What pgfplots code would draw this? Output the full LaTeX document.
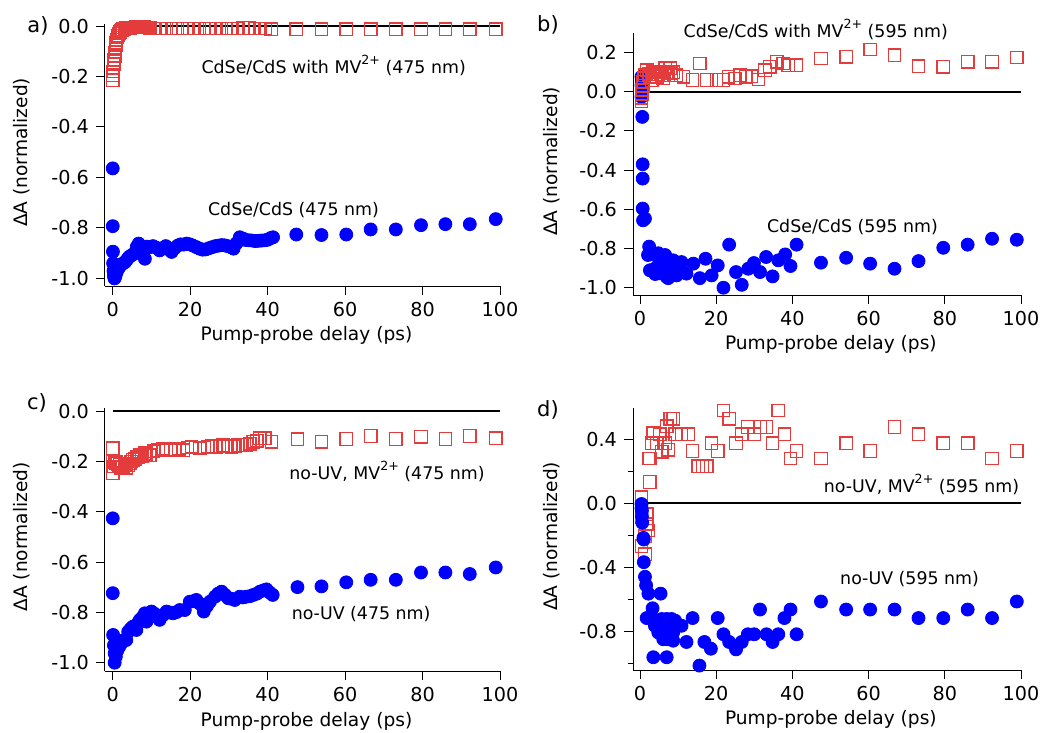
\documentclass[border=0pt]{standalone}
\usepackage{fontspec}
\setmainfont{DejaVu Sans}
\usepackage{pgfplots}
\pgfplotsset{compat=1.18}
\definecolor{sqred}{RGB}{228,60,60}
\definecolor{dotblue}{RGB}{0,0,255}
\newcommand\sups[1]{\raisebox{0.95ex}{\fontsize{6.3}{7}\selectfont #1}}
\tikzset{ann/.style={anchor=base west, font=\fontsize{8.7}{10}\selectfont}}
\pgfplotsset{
 panel/.style={
  scale only axis, axis lines*=left, clip=false,
  xtick={0,20,...,100},
  tick align=outside, major tick length=4.5pt, minor tick length=2.5pt,
  every tick/.style={black, line width=0.5pt},
  axis line style={black, line width=0.5pt},
  /pgf/number format/assume math mode=true,
  ticklabel style={font=\fontsize{9.6}{11}\selectfont},
  yticklabel style={/pgf/number format/.cd, fixed, fixed zerofill, precision=1},
  xlabel={Pump-probe delay (ps)},
  ylabel={ΔA (normalized)},
  label style={font=\fontsize{9.3}{11}\selectfont},
  xlabel style={at={(axis description cs:0.51,-0.19)}, anchor=center},
  ylabel style={at={(axis description cs:-0.21,0.51)}, anchor=center},
 },
 zline/.style={black, line width=1pt, forget plot},
 bluedots/.style={only marks, mark=*, mark size=3.25pt, color=dotblue, mark options={draw=dotblue, fill=dotblue}},
 redsq/.style={only marks, mark=square, mark size=3.1pt, color=sqred, line width=0.65pt, mark options={solid, fill=none}},
}
\begin{document}
\begin{tikzpicture}
\useasboundingbox (0,0) rectangle (525.5pt,-366.5pt);
% ---------------- a
\begin{axis}[panel, at={(52.5pt,-143pt)}, anchor=south west, width=197.5pt, height=131pt,
  xmin=-2, xmax=100, ymin=-1.03, ymax=0.008, ytick={-1,-0.8,...,0.01}]
\addplot[zline] coordinates {(0,0) (100,0)};
\addplot[redsq] coordinates {
(0,-0.214) (0.05,-0.195) (0.1,-0.18) (0.2,-0.165) (0.3,-0.15) (0.4,-0.135) (0.5,-0.12) (0.6,-0.105)
(0.7,-0.09) (0.8,-0.075) (0.9,-0.065) (1.0,-0.055) (1.2,-0.045) (1.4,-0.038) (1.6,-0.03) (1.8,-0.025)
(2.0,-0.02) (2.3,-0.016) (2.6,-0.013) (3.0,-0.011) (3.5,-0.009) (4.0,-0.008) (4.5,-0.007) (5.0,-0.006)
(5.5,-0.006) (6.0,-0.005) (6.5,-0.005) (7.0,-0.005) (7.5,-0.005) (8.0,-0.005) (8.5,-0.006) (9.0,-0.006)
(9.6,-0.007) (11.0,-0.01) (12.4,-0.01) (13.8,-0.01) (15.2,-0.01) (16.6,-0.01) (18.0,-0.01) (19.4,-0.01)
(20.9,-0.01) (22.3,-0.01) (23.7,-0.01) (25.1,-0.01) (26.6,-0.01) (28.0,-0.01) (29.4,-0.01) (30.8,-0.01)
(32.3,-0.01) (33.7,-0.008) (35.1,-0.008) (36.6,-0.01) (38.0,-0.01) (39.4,-0.01) (40.9,-0.013)
(47.4,-0.013) (53.9,-0.013) (60.3,-0.013) (66.6,-0.013) (73.1,-0.013) (79.6,-0.013) (85.9,-0.013) (92.2,-0.013) (98.9,-0.013)};
\addplot[bluedots] coordinates {
(0,-0.564) (0,-0.793) (0.05,-0.894) (0.1,-0.94) (0.2,-0.97) (0.3,-0.99) (0.45,-1.0) (0.6,-0.995)
(0.8,-0.985) (1.0,-0.975) (1.3,-0.965) (1.7,-0.955) (2.2,-0.945) (2.7,-0.94) (3.2,-0.935) (3.7,-0.925)
(4.2,-0.915) (4.7,-0.91) (5.2,-0.905) (5.7,-0.9) (6.2,-0.875) (6.7,-0.862) (7.2,-0.88) (7.7,-0.895)
(8.3,-0.922) (8.8,-0.874) (9.6,-0.876) (10.4,-0.872) (11.2,-0.878) (12.1,-0.889) (12.9,-0.88) (13.7,-0.872)
(14.5,-0.885) (15.2,-0.895) (16.0,-0.88) (16.8,-0.87) (17.5,-0.865) (18.3,-0.866) (19.1,-0.862) (19.9,-0.865)
(20.7,-0.87) (21.6,-0.876) (22.4,-0.882) (23.2,-0.886) (24.0,-0.885) (24.9,-0.88) (25.7,-0.876) (26.5,-0.872)
(27.3,-0.87) (28.1,-0.868) (28.9,-0.869) (29.7,-0.872) (30.5,-0.876) (31.2,-0.882) (32.0,-0.86) (32.8,-0.837)
(33.6,-0.842) (34.4,-0.848) (35.2,-0.849) (36.0,-0.85) (36.8,-0.852) (37.6,-0.851) (38.4,-0.85) (39.2,-0.849)
(40.0,-0.847) (40.8,-0.84) (41.4,-0.837)
(47.4,-0.826) (53.9,-0.828) (60.3,-0.826) (66.6,-0.806) (73.1,-0.806) (79.6,-0.789) (85.9,-0.785) (92.2,-0.785) (98.9,-0.765)};
\node[ann] at (axis cs:21.1,-0.188) {CdSe/CdS with MV\sups{2+} (475 nm)};
\node[ann] at (axis cs:22.8,-0.749) {CdSe/CdS (475 nm)};
\end{axis}
% ---------------- b
\begin{axis}[panel, at={(316.5pt,-147.5pt)}, anchor=south west, width=194pt, height=131pt,
  xmin=-1.84, xmax=100, ymin=-1.037, ymax=0.30, ytick={-1,-0.8,...,0.21}]
\addplot[zline] coordinates {(0,0) (100,0)};
\addplot[bluedots] coordinates {
(0.4,0.077) (0.4,0.034) (0.4,-0.026) (0.5,0.06) (0.5,0.0) (0.6,-0.128) (0.7,-0.37) (0.7,-0.443)
(0.7,-0.596) (0.8,-0.656) (1.3,-0.647)
(2.1,-0.833) (2.4,-0.79) (2.6,-0.911) (3.1,-0.91) (3.5,-0.83) (4.0,-0.93) (4.4,-0.894) (4.8,-0.824)
(5.2,-0.86) (5.2,-0.926) (5.7,-0.84) (6.1,-0.877) (6.6,-0.833) (7.0,-0.945) (7.4,-0.894) (7.4,-0.951)
(7.9,-0.87) (8.3,-0.92) (8.7,-0.86) (9.2,-0.867) (9.6,-0.937) (10.1,-0.926) (10.9,-0.869) (12.2,-0.928)
(14.0,-0.877) (15.7,-0.951) (17.2,-0.852) (18.8,-0.937) (20.4,-0.886) (21.9,-1.0) (23.4,-0.78) (25.2,-0.92)
(26.7,-0.985) (28.4,-0.903) (29.9,-0.874) (31.5,-0.92) (33.1,-0.843) (34.8,-0.942) (36.3,-0.86) (38.1,-0.83)
(39.5,-0.889) (41.1,-0.78)
(47.5,-0.872) (54.1,-0.847) (60.4,-0.877) (66.8,-0.903) (73.1,-0.864) (79.6,-0.796) (86.0,-0.78) (92.4,-0.75) (98.9,-0.755)};
\addplot[redsq] coordinates {
(0.4,-0.05) (0.4,-0.03) (0.5,-0.01) (0.6,0.01) (0.7,0.03) (0.8,0.05) (0.9,0.07) (1.2,0.085)
(1.75,0.11) (2.2,0.09) (2.6,0.08) (3.1,0.06) (3.5,0.10) (4.0,0.09) (4.4,0.077) (4.8,0.09)
(5.2,0.10) (5.7,0.085) (6.1,0.068) (6.6,0.12) (7.0,0.10) (7.4,0.085) (7.9,0.12) (8.3,0.095)
(8.7,0.10) (9.6,0.085) (11.4,0.077) (13.8,0.06) (15.7,0.145) (17.5,0.06) (20.1,0.06) (21.9,0.06)
(23.2,0.077) (24.9,0.068) (26.2,0.085) (27.8,0.077) (29.3,0.08) (31.1,0.063) (32.8,0.11) (34.1,0.128)
(35.9,0.153) (37.6,0.145) (38.9,0.136) (41.1,0.136)
(47.5,0.17) (54.1,0.179) (60.4,0.216) (66.8,0.187) (73.1,0.131) (79.6,0.128) (86.0,0.153) (92.4,0.153) (98.9,0.175)};
\node[ann] at (axis cs:9.6,0.278) {CdSe/CdS with MV\sups{2+} (595 nm)};
\node[ann] at (axis cs:31.5,-0.719) {CdSe/CdS (595 nm)};
\end{axis}
% ---------------- c
\begin{axis}[panel, at={(52.5pt,-335.5pt)}, anchor=south west, width=197.5pt, height=131.5pt,
  xmin=-2, xmax=100, ymin=-1.032, ymax=0.012, ytick={-1,-0.8,...,0.01}]
\addplot[zline] coordinates {(0,0) (100,0)};
\addplot[redsq] coordinates {
(0,-0.148) (0,-0.201) (0,-0.247) (0.3,-0.22) (0.5,-0.2) (0.8,-0.205) (1.0,-0.2) (1.2,-0.21)
(1.5,-0.22) (1.8,-0.214) (2.2,-0.225) (2.6,-0.22) (3.1,-0.214) (3.5,-0.225) (4.0,-0.215) (4.4,-0.208)
(4.8,-0.2) (5.2,-0.194) (5.7,-0.19) (6.1,-0.181) (6.6,-0.185) (7.0,-0.175) (7.5,-0.18) (8.3,-0.168)
(8.7,-0.17) (9.6,-0.175) (10.5,-0.16) (11.7,-0.155) (13.0,-0.15) (13.9,-0.155) (15.0,-0.152) (16.0,-0.155)
(17.1,-0.15) (18.2,-0.155) (19.3,-0.145) (20.3,-0.142) (21.4,-0.145) (22.5,-0.148) (23.6,-0.145) (24.6,-0.142)
(25.7,-0.14) (26.8,-0.142) (27.6,-0.14) (28.5,-0.135) (29.6,-0.14) (30.7,-0.142) (31.5,-0.14) (32.4,-0.135)
(33.5,-0.135) (34.5,-0.135) (35.4,-0.13) (36.3,-0.122) (37.2,-0.118) (38.0,-0.108) (39.3,-0.108) (41.0,-0.122)
(47.7,-0.112) (53.9,-0.122) (60.3,-0.111) (66.6,-0.099) (73.1,-0.111) (79.6,-0.102) (85.9,-0.111) (92.2,-0.099) (98.9,-0.108)};
\addplot[bluedots] coordinates {
(0,-0.426) (0,-0.723) (0.1,-0.889) (0.3,-0.93) (0.5,-0.962) (0.5,-0.999) (0.8,-0.975) (1.2,-0.95)
(1.7,-0.935) (2.2,-0.922) (2.8,-0.91) (3.5,-0.909) (4.0,-0.876) (4.6,-0.865) (5.2,-0.856) (5.7,-0.86)
(6.1,-0.869) (6.6,-0.84) (7.0,-0.829) (7.6,-0.82) (8.3,-0.803) (8.7,-0.836) (9.2,-0.81) (10.0,-0.796)
(10.8,-0.805) (12.1,-0.829) (13.0,-0.81) (13.9,-0.796) (14.8,-0.8) (15.6,-0.803) (16.5,-0.798) (17.3,-0.79)
(18.6,-0.79) (19.9,-0.757) (20.8,-0.755) (21.6,-0.75) (22.5,-0.765) (23.5,-0.796) (24.3,-0.775) (25.1,-0.757)
(26.4,-0.737) (27.2,-0.725) (28.1,-0.717) (29.0,-0.73) (29.8,-0.743) (30.6,-0.745) (31.5,-0.75) (32.8,-0.737)
(33.6,-0.74) (34.5,-0.737) (35.4,-0.735) (36.3,-0.73) (37.2,-0.725) (38.0,-0.717) (38.9,-0.712) (39.7,-0.708)
(40.5,-0.72) (41.3,-0.73)
(47.7,-0.699) (53.9,-0.696) (60.3,-0.68) (66.6,-0.67) (73.1,-0.67) (79.6,-0.641) (85.9,-0.641) (92.2,-0.647) (98.9,-0.621)};
\node[ann] at (axis cs:43.8,-0.273) {no-UV, MV\sups{2+} (475 nm)};
\node[ann] at (axis cs:44.4,-0.828) {no-UV (475 nm)};
\end{axis}
% ---------------- d
\begin{axis}[panel, at={(316.5pt,-335pt)}, anchor=south west, width=194pt, height=131pt,
  xmin=-1.84, xmax=100, ymin=-1.0375, ymax=0.594, ytick={-0.8,-0.4,0,0.4}, minor ytick={-1,-0.6,-0.2,0.2}]
\addplot[zline] coordinates {(0,0) (100,0)};
\addplot[redsq] coordinates {
(0.4,0.038) (0.4,-0.021) (0.4,-0.088) (0.4,-0.267) (1.3,-0.316) (1.75,-0.067) (1.75,-0.13) (2.2,-0.168)
(1.3,-0.204) (2.6,0.133) (2.2,0.28) (2.6,0.28) (3.1,0.375) (3.5,0.438) (4.4,0.375) (5.2,0.43)
(5.7,0.322) (6.6,0.375) (7.0,0.48) (7.4,0.333) (7.9,0.526) (8.7,0.526) (9.2,0.43) (10.9,0.43)
(12.7,0.43) (13.8,0.326) (15.3,0.232) (16.4,0.232) (17.5,0.232) (18.8,0.375) (20.4,0.326) (21.9,0.579)
(23.4,0.526) (25.2,0.375) (26.7,0.43) (28.3,0.476) (30.0,0.43) (31.5,0.476) (33.2,0.476) (34.8,0.375)
(36.3,0.579) (37.9,0.43) (39.5,0.28) (41.1,0.326)
(47.5,0.28) (54.1,0.375) (60.4,0.326) (66.8,0.476) (73.1,0.43) (79.6,0.375) (86.0,0.375) (92.4,0.28) (98.9,0.326)};
\addplot[bluedots] coordinates {
(0.4,-0.004) (0.4,-0.03) (0.5,-0.046) (0.5,-0.08) (0.6,-0.12) (0.9,-0.215) (1.0,-0.225) (1.0,-0.366)
(1.3,-0.457) (1.6,-0.51) (2.2,-0.562) (5.4,-0.562) (3.3,-0.653) (1.75,-0.714) (3.1,-0.709) (3.9,-0.762)
(4.4,-0.73) (4.8,-0.804) (5.2,-0.75) (5.7,-0.72) (6.1,-0.846) (6.6,-0.78) (7.0,-0.783) (7.0,-0.72)
(7.4,-0.846) (7.9,-0.76) (8.3,-0.72) (8.7,-0.804) (9.2,-0.73) (10.9,-0.762) (12.2,-0.863) (13.8,-0.714)
(3.5,-0.958) (7.0,-0.958) (8.7,-0.855) (15.6,-1.01) (16.9,-0.863) (18.6,-0.905) (20.4,-0.714) (21.9,-0.815)
(23.4,-0.863) (25.2,-0.909) (26.7,-0.863) (28.3,-0.815) (30.0,-0.815) (31.5,-0.661) (33.2,-0.815) (34.8,-0.863)
(36.3,-0.815) (37.9,-0.714) (39.5,-0.661) (41.1,-0.815)
(47.5,-0.611) (54.1,-0.661) (60.4,-0.661) (66.8,-0.661) (73.1,-0.714) (79.6,-0.714) (86.0,-0.661) (92.4,-0.714) (98.9,-0.611)};
\node[ann] at (axis cs:46.4,0.069) {no-UV, MV\sups{2+} (595 nm)};
\node[ann] at (axis cs:50.7,-0.503) {no-UV (595 nm)};
\end{axis}
% panel letters
\node[font=\fontsize{10.5}{12}\selectfont] at (19pt,-13pt) {a)};
\node[font=\fontsize{10.5}{12}\selectfont] at (274pt,-12.5pt) {b)};
\node[font=\fontsize{10.5}{12}\selectfont] at (18.5pt,-201.5pt) {c)};
\node[font=\fontsize{10.5}{12}\selectfont] at (274pt,-205pt) {d)};
\end{tikzpicture}
\end{document}
